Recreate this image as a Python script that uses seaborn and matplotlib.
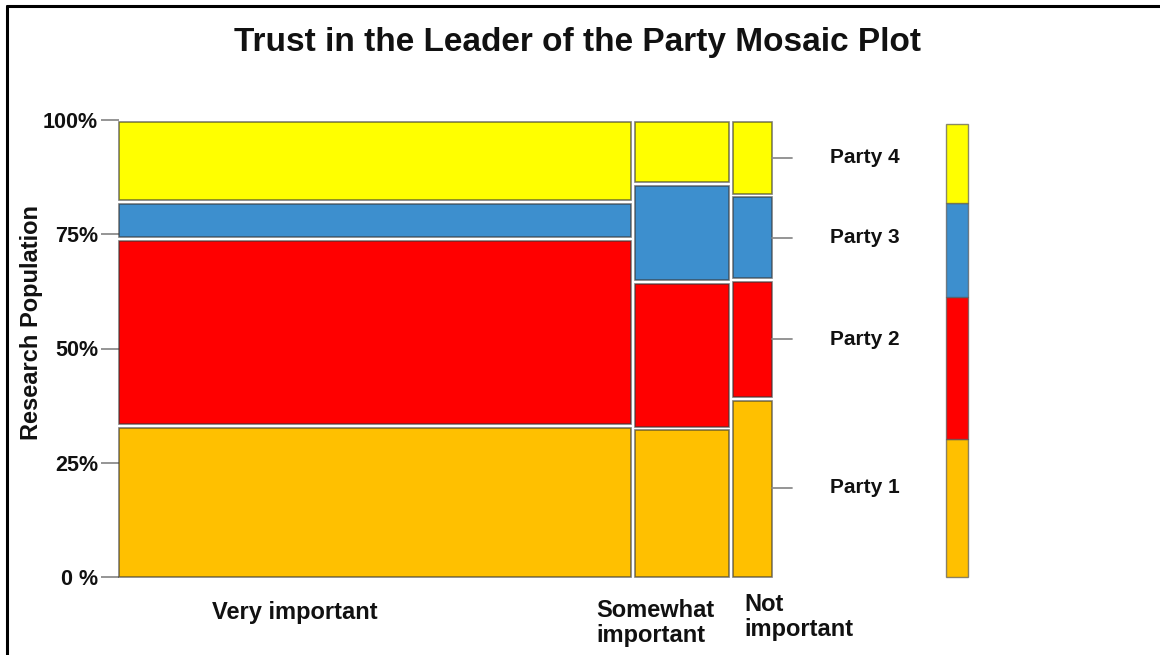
import numpy as np
import pandas as pd
import matplotlib
matplotlib.use("Agg")
import matplotlib.pyplot as plt
from matplotlib.lines import Line2D
import seaborn as sns

# Importance groups (x) and their share of respondents (tile widths)
importance = ["Very important", "Somewhat\nimportant", "Not\nimportant"]
importance_share = [0.795, 0.145, 0.060]

# Parties stacked bottom to top
parties = ["Party 1", "Party 2", "Party 3", "Party 4"]

# Share of each party within each importance group
very_important = [0.33, 0.41, 0.08, 0.18]
somewhat_important = [0.325, 0.32, 0.215, 0.14]
not_important = [0.39, 0.26, 0.185, 0.165]

# Overall party split shown in the side bar
overall = [0.305, 0.313, 0.208, 0.174]

y_ticks = [0, 0.25, 0.5, 0.75, 1.0]
y_tick_labels = ["0 %", "25%", "50%", "75%", "100%"]

party_colors = ["#FFC000", "#FF0000", "#3D8FCE", "#FFFF00"]

table = pd.DataFrame(
    {importance[0]: very_important,
     importance[1]: somewhat_important,
     importance[2]: not_important},
    index=parties,
)

sns.set_theme(style="white")
plt.rcParams["font.family"] = ["Liberation Sans", "DejaVu Sans"]

W, H = 1160, 655
fig = plt.figure(figsize=(W / 100, H / 100), dpi=100)
fig.patch.set_facecolor("white")

ax = fig.add_axes([119 / W, 78 / H, 653 / W, 457 / H])

gap_x = 0.007
gap_y = 0.008
edge = (0.22, 0.22, 0.22, 0.65)
text_color = "#111111"

x0 = 0.0
for name, share in zip(importance, importance_share):
    props = table[name].to_numpy()
    bottoms = np.concatenate([[0.0], np.cumsum(props)[:-1]])
    for p, (b, h) in enumerate(zip(bottoms, props)):
        lo = b + (gap_y / 2 if p > 0 else 0.0)
        hi = b + h - gap_y / 2
        ax.bar(x0, hi - lo, width=share, bottom=lo, align="edge",
               color=party_colors[p], edgecolor=edge, linewidth=1.2,
               clip_on=False)
    x0 += share + gap_x
x_end = x0 - gap_x
total = x_end

ax.set_xlim(0, total)
ax.set_ylim(0, 1)
for s in ax.spines.values():
    s.set_visible(False)
ax.set_xticks([])
ax.set_yticks(y_ticks)
ax.set_yticklabels(y_tick_labels)
ax.tick_params(axis="y", left=True, length=13, width=1.3, color="#8c8c8c",
               pad=2, labelsize=15.5, labelcolor=text_color)
for lbl in ax.get_yticklabels():
    lbl.set_fontweight("bold")

# Party labels beside the last group, at the middle of its tiles
px = total / 653.0
last = table[importance[-1]].to_numpy()
last_bottoms = np.concatenate([[0.0], np.cumsum(last)[:-1]])
for party, b, h in zip(parties, last_bottoms, last):
    mid = b + h / 2
    ax.plot([x_end, x_end + 20 * px], [mid, mid], color="#8c8c8c",
            lw=1.3, clip_on=False)
    ax.text(x_end + 58 * px, mid, party, ha="left", va="center",
            fontsize=15, fontweight="bold", color=text_color)

# Side bar with the overall split
ax2 = fig.add_axes([946 / W, 78 / H, 22 / W, 453 / H])
ob = np.concatenate([[0.0], np.cumsum(overall)[:-1]])
ax2.bar(np.zeros(len(overall)), overall, bottom=ob, width=1, align="edge",
        color=party_colors, edgecolor=(0.35, 0.35, 0.35, 0.7), linewidth=1.0,
        clip_on=False)
ax2.set_xlim(0, 1)
ax2.set_ylim(0, sum(overall))
ax2.axis("off")

# Group labels under the tiles
fig.text(295 / W, 1 - 612 / H, importance[0], ha="center", va="center",
         fontsize=17, fontweight="bold", color=text_color)
fig.text(596 / W, 1 - 623 / H, importance[1], ha="left", va="center",
         fontsize=17, fontweight="bold", color=text_color, linespacing=1.15)
fig.text(744 / W, 1 - 617 / H, importance[2], ha="left", va="center",
         fontsize=17, fontweight="bold", color=text_color, linespacing=1.15)

fig.text(577 / W, 1 - 42 / H, "Trust in the Leader of the Party Mosaic Plot",
         ha="center", va="center", fontsize=24, fontweight="bold",
         color=text_color)
fig.text(32 / W, 1 - 322 / H, "Research Population", rotation=90,
         ha="center", va="center", fontsize=17, fontweight="bold",
         color=text_color)

# Outer frame on the left and top edges
fig.add_artist(Line2D([7 / W, 7 / W], [0, 1 - 6 / H],
                      transform=fig.transFigure, color="black", lw=2.2))
fig.add_artist(Line2D([7 / W, 1], [1 - 6 / H, 1 - 6 / H],
                      transform=fig.transFigure, color="black", lw=2.2))

fig.savefig("out.png", dpi=100, facecolor="white")
